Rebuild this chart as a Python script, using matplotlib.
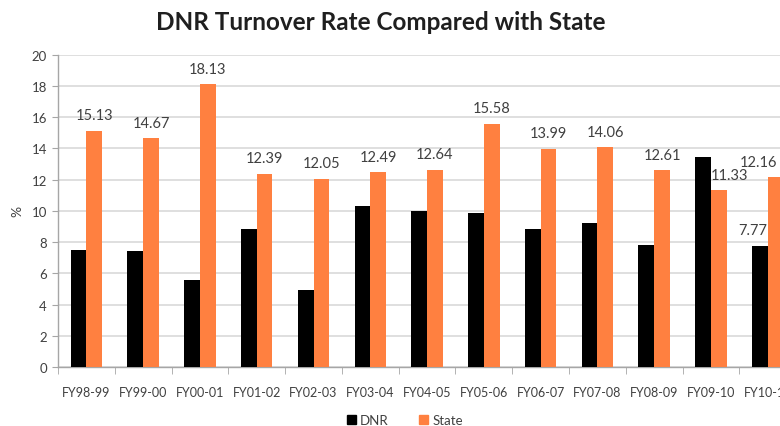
import matplotlib
matplotlib.use("Agg")
import matplotlib.pyplot as plt
from matplotlib.patches import Patch
import numpy as np

plt.rcParams['font.family'] = ['Lato', 'DejaVu Sans']

# Fiscal years and turnover rates (%)
years = ["FY98-99", "FY99-00", "FY00-01", "FY01-02", "FY02-03", "FY03-04",
         "FY04-05", "FY05-06", "FY06-07", "FY07-08", "FY08-09", "FY09-10", "FY10-11"]
dnr = [7.50, 7.41, 5.54, 8.86, 4.94, 10.31, 10.01, 9.84, 8.82, 9.20, 7.80, 13.46, 7.77]
state = [15.13, 14.67, 18.13, 12.39, 12.05, 12.49, 12.64, 15.58, 13.99, 14.06, 12.61, 11.33, 12.16]

DNR_COLOR = "#000000"
STATE_COLOR = "#FF8040"
TEXT_COLOR = "#404040"
GRID_COLOR = "#D9D9D9"

fig = plt.figure(figsize=(7.8, 4.27), dpi=100)
ax = fig.add_axes([0.0744, 0.1382, 0.9462, 0.7314])

x = np.arange(len(years))
w = 0.277
ax.bar(x - w / 2, dnr, width=w, color=DNR_COLOR, zorder=3)
ax.bar(x + w / 2, state, width=w, color=STATE_COLOR, zorder=3)

# value labels above the State bars (a few nudged sideways to clear neighbours)
nudge = {11: 8, 12: -12}
for i, (xi, v) in enumerate(zip(x, state)):
    ax.annotate(f"{v:.2f}", (xi + w / 2, v), xytext=(nudge.get(i, 0), 6),
                textcoords="offset points", ha="center", va="bottom",
                fontsize=10.5, color=TEXT_COLOR, annotation_clip=False)
# the last DNR bar carries its own label
ax.annotate(f"{dnr[-1]:.2f}", (x[-1] - w / 2, dnr[-1]), xytext=(-5, 6),
            textcoords="offset points", ha="center", va="bottom",
            fontsize=10.5, color=TEXT_COLOR)

ax.set_xlim(-0.5, len(years) - 0.5)
ax.set_ylim(0, 20)
ax.set_yticks(np.arange(0, 21, 2))
ax.set_xticks(x)
ax.set_xticklabels(years)
ax.set_xticks(np.arange(-0.5, len(years), 1.0), minor=True)
ax.tick_params(axis="x", which="major", length=0, pad=14, labelsize=9, labelcolor=TEXT_COLOR)
ax.tick_params(axis="x", which="minor", length=5, color="#A6A6A6", direction="out")
ax.tick_params(axis="y", length=4, color="#A6A6A6", labelsize=9.5, labelcolor=TEXT_COLOR, pad=4)

ax.yaxis.grid(True, color=GRID_COLOR, linewidth=1.2, zorder=0)
ax.set_axisbelow(True)
for side in ("top", "right"):
    ax.spines[side].set_visible(False)
for side in ("left", "bottom"):
    ax.spines[side].set_color("#A6A6A6")
    ax.spines[side].set_linewidth(1.0)

ax.set_ylabel("%", fontsize=10, color=TEXT_COLOR, labelpad=6)

fig.text(381 / 780, 1 - 22 / 427, "DNR Turnover Rate Compared with State",
         ha="center", va="center", fontsize=17.5, fontweight="bold", color="#1F1F1F")

handles = [Patch(color=DNR_COLOR, label="DNR"), Patch(color=STATE_COLOR, label="State")]
fig.legend(handles=handles, loc="center", bbox_to_anchor=(405 / 780, 1 - 421 / 427),
           ncol=2, frameon=False, fontsize=9.5, handlelength=0.7, handleheight=0.7,
           handletextpad=0.3, columnspacing=2.3, labelcolor=TEXT_COLOR)

fig.savefig("out.png", dpi=100)
